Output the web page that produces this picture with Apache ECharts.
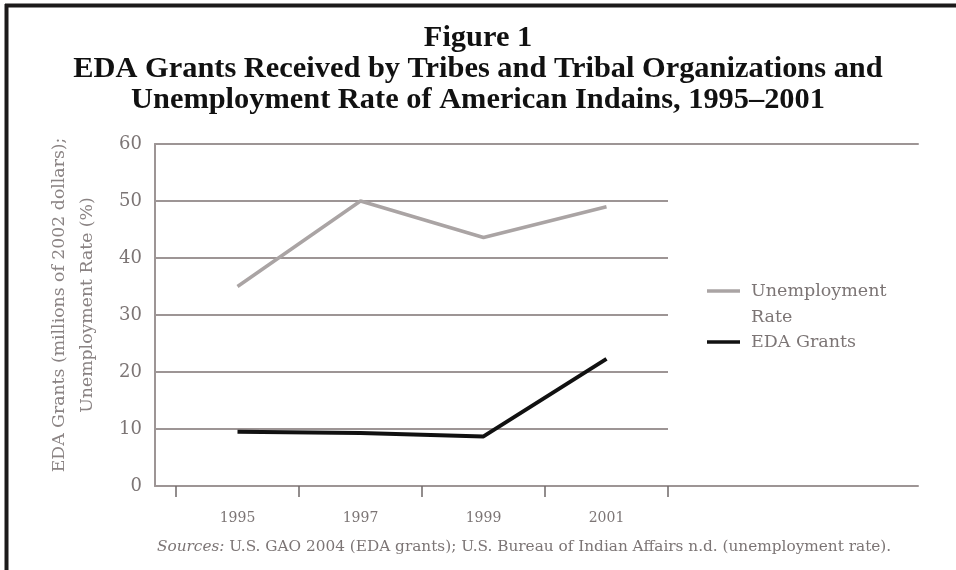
<!DOCTYPE html>
<html>
<head>
<meta charset="utf-8">
<script src="https://cdn.jsdelivr.net/npm/echarts@6/dist/echarts.min.js"></script>
<style>
html,body{margin:0;padding:0;background:#fff;}
#chart{width:956px;height:570px;}
</style>
</head>
<body>
<div id="chart"></div>
<script>
// ---- data ----
var years = ['1995', '1997', '1999', '2001'];
var unemploymentRate = [35.0, 50.0, 43.6, 49.0];
var edaGrants = [9.5, 9.3, 8.7, 22.3];
var yTicks = { min: 0, max: 60, interval: 10 };
var titleLines = ['Figure 1', 'EDA Grants Received by Tribes and Tribal Organizations and', 'Unemployment Rate of American Indains, 1995\u20132001'];
var yAxisName = ['EDA Grants (millions of 2002 dollars);', 'Unemployment Rate (%)'];
var seriesNames = ['Unemployment Rate', 'EDA Grants'];

var gridColor = '#9d9595';
var textGray = '#7c7575';
var serif = 'DejaVu Serif';

var chart = echarts.init(document.getElementById('chart'), null, { renderer: 'canvas' });

var titleTops = [22, 53, 84];
var titles = titleLines.map(function (t, i) {
  return {
    text: t, left: 'center', top: titleTops[i], padding: 0,
    textStyle: { fontFamily: 'Liberation Serif', fontWeight: 'bold', fontSize: 30.4, lineHeight: 32, color: '#111' }
  };
});

var option = {
  backgroundColor: '#ffffff',
  animation: false,
  title: titles,
  legend: {
    orient: 'vertical',
    left: 707,
    top: 252,
    padding: 0,
    icon: 'rect',
    itemWidth: 33,
    itemHeight: 3.5,
    itemGap: -1,
    selectedMode: false,
    data: [seriesNames[0], seriesNames[1]],
    formatter: function (n) { return n === seriesNames[0] ? '\u00a0\nUnemployment\nRate' : n; },
    textStyle: { fontFamily: serif, fontSize: 17.5, lineHeight: 26, color: textGray, padding: [0, 0, 0, 6] }
  },
  grid: [
    { left: 155, right: 38, top: 144, bottom: 84 },
    { left: 155, right: 288, top: 144, bottom: 84 },
    { left: 176, right: 288, top: 144, bottom: 84 }
  ],
  xAxis: [
    { gridIndex: 0, type: 'value', position: 'bottom', min: 0, max: 1,
      axisLine: { show: true, lineStyle: { color: gridColor, width: 2 } },
      axisTick: { show: false }, axisLabel: { show: false }, splitLine: { show: false } },
    { gridIndex: 0, type: 'value', position: 'top', min: 0, max: 1,
      axisLine: { show: true, lineStyle: { color: gridColor, width: 2 } },
      axisTick: { show: false }, axisLabel: { show: false }, splitLine: { show: false } },
    { gridIndex: 1, type: 'value', show: false, min: 0, max: 1 },
    { gridIndex: 2, type: 'category', data: years, boundaryGap: true, position: 'bottom',
      axisLine: { show: false },
      axisTick: { show: true, length: 11, lineStyle: { color: '#6f6868', width: 1.5 } },
      axisLabel: { fontFamily: serif, fontSize: 14, color: textGray, margin: 25 },
      splitLine: { show: false } }
  ],
  yAxis: [
    { gridIndex: 0, type: 'value', min: yTicks.min, max: yTicks.max, interval: yTicks.interval,
      name: yAxisName.join('\n'), nameLocation: 'middle', nameGap: 53, nameRotate: 90,
      nameTextStyle: { fontFamily: serif, fontSize: 17.3, lineHeight: 28, color: '#8a8383', padding: [0, 0, 0, 20] },
      axisLine: { show: true, lineStyle: { color: gridColor, width: 2 } },
      axisTick: { show: false },
      axisLabel: { fontFamily: serif, fontSize: 18, color: textGray, margin: 13 },
      splitLine: { show: false } },
    { gridIndex: 1, type: 'value', min: yTicks.min, max: yTicks.max, interval: yTicks.interval,
      axisLine: { show: false }, axisTick: { show: false }, axisLabel: { show: false },
      splitLine: { show: true, lineStyle: { color: gridColor, width: 2 } } },
    { gridIndex: 2, type: 'value', min: yTicks.min, max: yTicks.max, interval: yTicks.interval, show: false }
  ],
  series: [
    { name: seriesNames[0], type: 'line', xAxisIndex: 3, yAxisIndex: 2, data: unemploymentRate,
      symbol: 'none', lineStyle: { color: '#aaa4a4', width: 3.5 }, itemStyle: { color: '#aaa4a4' }, z: 3 },
    { name: seriesNames[1], type: 'line', xAxisIndex: 3, yAxisIndex: 2, data: edaGrants,
      symbol: 'none', lineStyle: { color: '#111111', width: 4 }, itemStyle: { color: '#111111' }, z: 4 }
  ],
  graphic: [
    { type: 'line', shape: { x1: 5, y1: 5.5, x2: 956, y2: 5.5 }, style: { stroke: '#1c1a1a', lineWidth: 4 } },
    { type: 'line', shape: { x1: 6.5, y1: 4, x2: 6.5, y2: 570 }, style: { stroke: '#1c1a1a', lineWidth: 4 } },
    { type: 'text', left: 157, top: 540,
      style: {
        text: '{i|Sources:} U.S. GAO 2004 (EDA grants); U.S. Bureau of Indian Affairs n.d. (unemployment rate).',
        font: '15.3px "DejaVu Serif"', fill: textGray,
        rich: { i: { fontStyle: 'italic', fontFamily: serif, fontSize: 15.3, fill: textGray } }
      } }
  ]
};
chart.setOption(option);
</script>
</body>
</html>
